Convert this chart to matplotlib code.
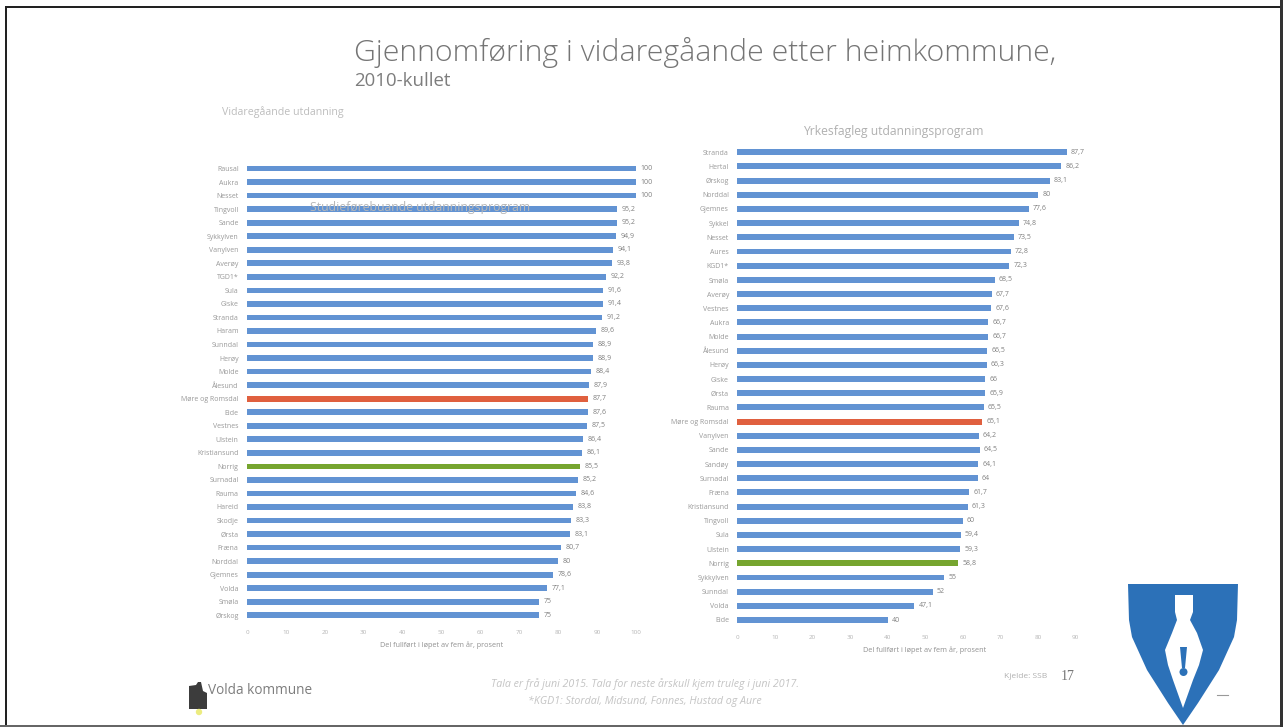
import matplotlib
matplotlib.use('Agg')
import matplotlib.pyplot as plt
from matplotlib.patches import Polygon, Circle, Rectangle

W, H = 1283, 727

left_names = ['Rausal', 'Aukra', 'Nesset', 'Tingvoll', 'Sande', 'Sykkylven', 'Vanylven', 'Averøy', 'TGD1*',
              'Sula', 'Giske', 'Stranda', 'Haram', 'Sunndal', 'Herøy', 'Molde', 'Ålesund', 'Møre og Romsdal',
              'Eide', 'Vestnes', 'Ulstein', 'Kristiansund', 'Norrig', 'Surnadal', 'Rauma', 'Hareid', 'Skodje',
              'Ørsta', 'Fræna', 'Norddal', 'Gjemnes', 'Volda', 'Smøla', 'Ørskog']
left_values = [100, 100, 100, 95.2, 95.2, 94.9, 94.1, 93.8, 92.2, 91.6, 91.4, 91.2, 89.6, 88.9, 88.9, 88.4,
               87.9, 87.7, 87.6, 87.5, 86.4, 86.1, 85.5, 85.2, 84.6, 83.8, 83.3, 83.1, 80.7, 80, 78.6, 77.1,
               75, 75]

right_names = ['Stranda', 'Hertal', 'Ørskog', 'Norddal', 'Gjemnes', 'Sykkel', 'Nesset', 'Aures', 'KGD1*',
               'Smøla', 'Averøy', 'Vestnes', 'Aukra', 'Molde', 'Ålesund', 'Herøy', 'Giske', 'Ørsta', 'Rauma',
               'Møre og Romsdal', 'Vanylven', 'Sande', 'Sandøy', 'Surnadal', 'Fræna', 'Kristiansund',
               'Tingvoll', 'Sula', 'Ulstein', 'Norrig', 'Sykkylven', 'Sunndal', 'Volda', 'Eide']
right_values = [87.7, 86.2, 83.1, 80, 77.6, 74.8, 73.5, 72.8, 72.3, 68.5, 67.7, 67.6, 66.7, 66.7, 66.5, 66.3,
                66, 65.9, 65.5, 65.1, 64.2, 64.5, 64.1, 64, 61.7, 61.3, 60, 59.4, 59.3, 58.8, 55, 52, 47.1, 40]

left_ticks = list(range(0, 101, 10))
right_ticks = list(range(0, 91, 10))

BLUE = '#6293d3'
RED = '#e0603f'
GREEN = '#76a52f'
GREY = '#999999'
SHIELD = '#2c71b8'


def colours(names):
    out = []
    for n in names:
        if n == 'Møre og Romsdal':
            out.append(RED)
        elif n == 'Norrig':
            out.append(GREEN)
        else:
            out.append(BLUE)
    return out


def panel(fig, names, values, ticks, x0, x1, y_first, y_last, xmax, xlabel, label_x, label_y):
    # axes placed in pixels so rows line up with the slide
    step = (y_last - y_first) / (len(names) - 1)
    top = y_first - step / 2
    bottom = y_last + step / 2
    ax = fig.add_axes([x0 / W, 1 - bottom / H, (x1 - x0) / W, (bottom - top) / H])
    ax.patch.set_alpha(0)
    ypos = list(range(len(names)))
    ax.barh(ypos, values, height=0.42, color=colours(names))
    ax.set_xlim(0, xmax)
    ax.set_ylim(len(names) - 0.5, -0.5)
    ax.set_yticks(ypos)
    ax.set_yticklabels(names, fontsize=5, color=GREY)
    ax.set_xticks(ticks)
    ax.set_xticklabels(ticks, fontsize=4.5, color='#b5b5b5')
    ax.tick_params(axis='y', length=0, pad=6)
    ax.tick_params(axis='x', length=0, pad=5.5)
    for s in ax.spines.values():
        s.set_visible(False)
    for y, v in zip(ypos, values):
        ax.text(v + xmax * 0.012, y, f'{v:g}'.replace('.', ','), fontsize=5, color='#808080', va='center')
    fig.text(label_x / W, 1 - label_y / H, xlabel, fontsize=5.2, color='#909090', ha='center', va='center')
    return ax


fig = plt.figure(figsize=(W / 100, H / 100), dpi=100)
plt.rcParams['font.family'] = ['Open Sans', 'DejaVu Sans']

panel(fig, left_names, left_values, left_ticks, 247, 636, 168.5, 615.3, 100,
      'Del fullført i løpet av fem år, prosent', 442, 645)
panel(fig, right_names, right_values, right_ticks, 737.3, 1075.7, 152.3, 620, 90,
      'Del fullført i løpet av fem år, prosent', 925, 650)

# slide overlay in pixel coordinates
over = fig.add_axes([0, 0, 1, 1])
over.set_xlim(0, W)
over.set_ylim(H, 0)
over.axis('off')
over.patch.set_alpha(0)

over.text(354, 52, 'Gjennomføring i vidaregåande etter heimkommune,', fontsize=21.8, color='#757575',
          va='center', fontweight='light')
over.text(354, 81, '2010-kullet', fontsize=13.4, color='#7d7d7d', va='center')
over.text(222, 112, 'Vidaregåande utdanning', fontsize=7.7, color='#bdbdbd', va='center')
over.text(893, 132, 'Yrkesfagleg utdanningsprogram', fontsize=8.7, color='#b0b0b0', va='center', ha='center')
over.text(420, 208, 'Studieførebuande utdanningsprogram', fontsize=8.8, color='#b8b8b8', va='center', ha='center')

over.text(208, 691, 'Volda kommune', fontsize=9.8, color='#7d7d7d', va='center')
over.text(645, 684, 'Tala er frå juni 2015. Tala for neste årskull kjem truleg i juni 2017.', fontsize=7.7,
          color='#c4c4c4', style='italic', ha='center', va='center')
over.text(645, 701, '*KGD1: Stordal, Midsund, Fonnes, Hustad og Aure', fontsize=7.7,
          color='#c4c4c4', style='italic', ha='center', va='center')
over.text(1026, 676, 'Kjelde: SSB', fontsize=6, color='#b0b0b0', ha='center', va='center')
over.text(1068, 676, '17', fontsize=10, color='#777777', ha='center', va='center', family='Liberation Serif')

# dark icon beside the municipality name
over.add_patch(Polygon([(189, 686), (196, 685), (198, 682), (201, 682), (203, 691), (207, 693), (207, 709),
                        (189, 709)], color='#3c3c3c', lw=0))
over.add_patch(Circle((199, 712), 3.2, color='#ecec80', lw=0))

# shield logo
shield = [(1128, 584), (1238, 584), (1237, 620), (1234, 637), (1219, 670), (1198, 703), (1183, 725),
          (1168, 703), (1147, 670), (1132, 637), (1129, 620)]
over.add_patch(Polygon(shield, color=SHIELD, lw=0))
nib = [(1175, 595), (1193, 595), (1193, 612), (1190, 620), (1197, 633), (1203, 650), (1199, 665), (1193, 680),
       (1183, 708), (1173, 680), (1168, 665), (1165, 650), (1172, 633), (1177, 620), (1175, 612)]
over.add_patch(Polygon(nib, color='white', lw=0))
over.add_patch(Polygon([(1180, 647), (1187, 647), (1185, 668), (1182, 668)], color=SHIELD, lw=0))
over.add_patch(Circle((1183.5, 672), 4, color=SHIELD, lw=0))
over.plot([1217, 1228], [695, 695], color='#999999', lw=0.8)

# scan edges of the slide
over.add_patch(Rectangle((5, 6), W - 5, 2, color='#222222', lw=0))
over.add_patch(Rectangle((5, 6), 2, H - 6, color='#222222', lw=0))
over.add_patch(Rectangle((0, 725), W, 2, color='#666666', lw=0))
over.add_patch(Rectangle((1280, 0), 3, H, color='#333333', lw=0))

fig.savefig('out.png', dpi=100)
